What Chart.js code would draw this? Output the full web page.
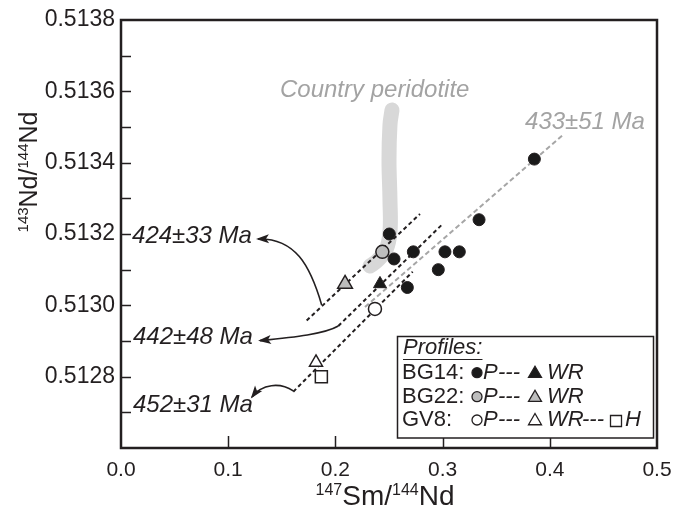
<!DOCTYPE html>
<html><head><meta charset="utf-8">
<script src="https://cdn.jsdelivr.net/npm/chart.js@4"></script>
<style>html,body{margin:0;padding:0;background:#fff}</style>
</head><body>
<canvas id="c" width="673" height="510"></canvas>
<script>
// ---------- data ----------
const xAxisTicks = [0, 0.1, 0.2, 0.3, 0.4, 0.5];
const yAxisLabelTicks = [0.5128, 0.5130, 0.5132, 0.5134, 0.5136, 0.5138];

const bg14P_x = [0.2503, 0.2547, 0.2727, 0.3022, 0.3156, 0.2960, 0.2671, 0.3340, 0.3856];
const bg14P_y = [0.51320, 0.51313, 0.51315, 0.51315, 0.51315, 0.51310, 0.51305, 0.51324, 0.51341];
const bg14WR_x = [0.2416];  const bg14WR_y = [0.51306];
const bg22P_x  = [0.2438];  const bg22P_y  = [0.51315];
const bg22WR_x = [0.2090];  const bg22WR_y = [0.51306];
const gv8P_x   = [0.2369];  const gv8P_y   = [0.51299];
const gv8WR_x  = [0.1819];  const gv8WR_y  = [0.51284];
const gv8H_x   = [0.1869];  const gv8H_y   = [0.51280];

const iso433_x = [0.2276, 0.4123]; const iso433_y = [0.5129953, 0.5134776];
const iso424_x = [0.1732, 0.2789]; const iso424_y = [0.5129575, 0.5132561];
const iso442_x = [0.2027, 0.3007]; const iso442_y = [0.5129420, 0.5132300];
const iso452_x = [0.1607, 0.2721]; const iso452_y = [0.5127579, 0.5130943];

const peridotite_x = [0.2528, 0.2509, 0.2500, 0.2509, 0.2509, 0.2472, 0.2397, 0.2323];
const peridotite_y = [0.5135477, 0.5135056, 0.5134075, 0.5132953, 0.5132056, 0.5131551, 0.5131271, 0.5131103];

const ageLabels  = ['424±33 Ma', '442±48 Ma', '452±31 Ma', '433±51 Ma'];
const ageLabel_x = [0.0103, 0.0112, 0.0112, 0.3769];
const ageLabel_y = [0.513194, 0.512911, 0.512721, 0.513514];
const peridotiteLabel = 'Country peridotite';
const peridotiteLabel_x = 0.1483, peridotiteLabel_y = 0.513604;

// arrow curves (cubic bezier control points, data units)
const arrow1_x = [0.1872, 0.1763, 0.1623, 0.1278]; const arrow1_y = [0.513001, 0.513113, 0.513189, 0.513186];
const arrow2_x = [0.2027, 0.1903, 0.1623, 0.1297]; const arrow2_y = [0.512942, 0.512920, 0.512911, 0.512901];
const arrow3_x = [0.1607, 0.1483, 0.1315, 0.1222]; const arrow3_y = [0.512760, 0.512785, 0.512780, 0.512743];

const legendTitle = 'Profiles:';
const legendRows = ['BG14:', 'BG22:', 'GV8:'];

// ---------- helpers ----------
const pts = (xs, ys) => xs.map((x, i) => ({x, y: ys[i]}));
const INK = '#231f20';
const FONT = "'Liberation Sans', Arial, sans-serif";

function richText(ctx, parts, cx, baseY, big, small, raise) {
  let total = 0;
  parts.forEach(p => { ctx.font = (p[1] ? small : big) + 'px ' + FONT; total += ctx.measureText(p[0]).width; });
  let x = cx - total / 2;
  ctx.textAlign = 'left'; ctx.textBaseline = 'alphabetic';
  parts.forEach(p => {
    ctx.font = (p[1] ? small : big) + 'px ' + FONT;
    ctx.fillText(p[0], x, baseY - (p[1] ? raise : 0));
    x += ctx.measureText(p[0]).width;
  });
}
function marker(ctx, type, x, y, r, fill) {
  ctx.save(); ctx.beginPath();
  if (type === 'circle') ctx.arc(x, y, r, 0, Math.PI * 2);
  else if (type === 'triangle') { ctx.moveTo(x, y - r); ctx.lineTo(x + r * 0.866, y + r * 0.5); ctx.lineTo(x - r * 0.866, y + r * 0.5); ctx.closePath(); }
  else if (type === 'rect') ctx.rect(x - r, y - r, 2 * r, 2 * r);
  ctx.fillStyle = fill; ctx.fill();
  ctx.lineWidth = 1.3; ctx.strokeStyle = INK; ctx.stroke();
  ctx.restore();
}

const deco = {
  id: 'deco',
  afterDatasetsDraw(chart) {
    const {ctx, scales: {x: sx, y: sy}} = chart;
    const X = v => sx.getPixelForValue(v), Y = v => sy.getPixelForValue(v);
    ctx.save();
    // arrows
    [[arrow1_x, arrow1_y], [arrow2_x, arrow2_y], [arrow3_x, arrow3_y]].forEach(([ax, ay]) => {
      const p = ax.map((v, i) => [X(v), Y(ay[i])]);
      ctx.beginPath(); ctx.moveTo(p[0][0], p[0][1]);
      ctx.bezierCurveTo(p[1][0], p[1][1], p[2][0], p[2][1], p[3][0], p[3][1]);
      ctx.strokeStyle = INK; ctx.lineWidth = 1.6; ctx.stroke();
      const ang = Math.atan2(p[3][1] - p[2][1], p[3][0] - p[2][0]);
      const L = 11, W = 4.5;
      ctx.beginPath();
      ctx.moveTo(p[3][0] + Math.cos(ang) * 2, p[3][1] + Math.sin(ang) * 2);
      ctx.lineTo(p[3][0] - Math.cos(ang) * L + Math.sin(ang) * W, p[3][1] - Math.sin(ang) * L - Math.cos(ang) * W);
      ctx.lineTo(p[3][0] - Math.cos(ang) * (L - 3), p[3][1] - Math.sin(ang) * (L - 3));
      ctx.lineTo(p[3][0] - Math.cos(ang) * L - Math.sin(ang) * W, p[3][1] - Math.sin(ang) * L + Math.cos(ang) * W);
      ctx.closePath(); ctx.fillStyle = INK; ctx.fill();
    });
    // labels
    ctx.textAlign = 'left'; ctx.textBaseline = 'middle';
    ageLabels.forEach((t, i) => {
      ctx.font = 'italic 24px ' + FONT;
      ctx.fillStyle = i === 3 ? '#a3a3a3' : INK;
      ctx.fillText(t, X(ageLabel_x[i]), Y(ageLabel_y[i]));
    });
    ctx.fillStyle = '#a3a3a3';
    ctx.fillText(peridotiteLabel, X(peridotiteLabel_x), Y(peridotiteLabel_y));
    ctx.restore();
  },
  afterDraw(chart) {
    const {ctx, chartArea: a, scales: {x: sx, y: sy}} = chart;
    ctx.save();
    // inward ticks
    ctx.strokeStyle = INK; ctx.lineWidth = 1.5;
    sy.ticks.forEach(t => {
      if (t.value <= sy.min + 1e-9 || t.value >= sy.max - 1e-9) return;
      const y = Math.round(sy.getPixelForValue(t.value)) + 0.5;
      ctx.beginPath(); ctx.moveTo(a.left, y); ctx.lineTo(a.left + 10, y); ctx.stroke();
    });
    sx.ticks.forEach(t => {
      if (t.value <= sx.min + 1e-9 || t.value >= sx.max - 1e-9) return;
      const x = Math.round(sx.getPixelForValue(t.value)) + 0.5;
      ctx.beginPath(); ctx.moveTo(x, a.bottom); ctx.lineTo(x, a.bottom - 12); ctx.stroke();
    });
    // legend box
    const lx = 397.5, ly = 336.5, lw = 256, lh = 101.5;
    ctx.fillStyle = '#fff'; ctx.fillRect(lx, ly, lw, lh);
    ctx.lineWidth = 1.5; ctx.strokeStyle = INK; ctx.strokeRect(lx, ly, lw, lh);
    ctx.fillStyle = INK; ctx.textBaseline = 'middle'; ctx.textAlign = 'left';
    ctx.font = 'italic 22px ' + FONT;
    ctx.fillText(legendTitle, 403, 348);
    const tw = ctx.measureText(legendTitle).width;
    ctx.beginPath(); ctx.moveTo(403, 359.5); ctx.lineTo(403 + tw, 359.5); ctx.lineWidth = 1.2; ctx.stroke();
    const rowY = [372.7, 396.7, 420];
    const pFill = ['#1a1a1a', '#bdbdbd', '#ffffff'];
    legendRows.forEach((r, i) => {
      ctx.fillStyle = INK; ctx.font = '22px ' + FONT;
      ctx.fillText(r, 402, rowY[i]);
      marker(ctx, 'circle', 477, rowY[i], 5, pFill[i]);
      ctx.fillStyle = INK; ctx.font = 'italic 22px ' + FONT;
      ctx.fillText('P', 483, rowY[i]);
      ctx.fillText('---', 498, rowY[i]);
      marker(ctx, 'triangle', 535, rowY[i] + 1, 7.5, pFill[i]);
      ctx.fillStyle = INK; ctx.font = 'italic 22px ' + FONT;
      ctx.fillText('WR', 547, rowY[i]);
      if (i === 2) {
        ctx.fillText('---', 582, rowY[i]);
        marker(ctx, 'rect', 616, rowY[i] + 1, 5.5, '#ffffff');
        ctx.fillStyle = INK; ctx.font = 'italic 22px ' + FONT;
        ctx.fillText('H', 625, rowY[i]);
      }
    });
    // frame
    ctx.lineWidth = 2.5; ctx.strokeStyle = INK;
    ctx.strokeRect(a.left, a.top, a.right - a.left, a.bottom - a.top);
    // axis titles
    ctx.fillStyle = INK;
    richText(ctx, [['147', true], ['Sm/', false], ['144', true], ['Nd', false]], 385, 505, 28, 16, 10);
    ctx.translate(37, 172); ctx.rotate(-Math.PI / 2);
    richText(ctx, [['143', true], ['Nd/', false], ['144', true], ['Nd', false]], 0, 0, 25, 15, 9);
    ctx.restore();
  }
};

const markerDs = (xs, ys, style, r, fill, lw) => ({
  data: pts(xs, ys), pointStyle: style, pointRadius: r, pointBackgroundColor: fill,
  pointBorderColor: INK, pointBorderWidth: lw, showLine: false, order: 1
});
const lineDs = (xs, ys, color, dash) => ({
  data: pts(xs, ys), showLine: true, borderColor: color, borderWidth: 2, borderDash: dash,
  pointRadius: 0, order: 2
});

new Chart(document.getElementById('c'), {
  type: 'scatter',
  data: {
    datasets: [
      markerDs(bg14P_x, bg14P_y, 'circle', 6, '#1a1a1a', 1),
      markerDs(bg14WR_x, bg14WR_y, 'triangle', 7.5, '#1a1a1a', 1),
      markerDs(bg22P_x, bg22P_y, 'circle', 6.5, '#bdbdbd', 1.5),
      markerDs(bg22WR_x, bg22WR_y, 'triangle', 8.5, '#bdbdbd', 1.5),
      markerDs(gv8P_x, gv8P_y, 'circle', 6.5, '#ffffff', 1.5),
      markerDs(gv8WR_x, gv8WR_y, 'triangle', 7.5, '#ffffff', 1.5),
      markerDs(gv8H_x, gv8H_y, 'rect', 8.5, '#ffffff', 1.5),
      lineDs(iso424_x, iso424_y, INK, [4, 3]),
      lineDs(iso442_x, iso442_y, INK, [4, 3]),
      lineDs(iso452_x, iso452_y, INK, [4, 3]),
      lineDs(iso433_x, iso433_y, '#a6a6a6', [5, 3]),
      { data: pts(peridotite_x, peridotite_y), showLine: true, borderColor: '#d8d8d8', borderWidth: 15,
        borderCapStyle: 'round', borderJoinStyle: 'round', tension: 0.4, pointRadius: 0, order: 3 }
    ]
  },
  options: {
    responsive: false, animation: false, devicePixelRatio: 1,
    layout: {padding: {top: 20, right: 16, left: 0, bottom: 0}},
    plugins: {legend: {display: false}, tooltip: {enabled: false}},
    scales: {
      x: {
        type: 'linear', min: 0, max: 0.5,
        afterBuildTicks: s => { s.ticks = xAxisTicks.map(v => ({value: v})); },
        ticks: {callback: v => v.toFixed(1), font: {family: FONT, size: 21}, color: INK, padding: 0, maxRotation: 0},
        grid: {display: false, drawTicks: true, tickLength: 10}, border: {display: false},
        afterFit: s => { s.height = 62; }
      },
      y: {
        type: 'linear', min: 0.5126, max: 0.5138,
        ticks: {
          stepSize: 0.0001, autoSkip: false,
          callback: v => { const k = Math.round(v * 1e4); return yAxisLabelTicks.some(t => Math.round(t * 1e4) === k) ? v.toFixed(4) : ''; },
          font: {family: FONT, size: 23}, color: INK, padding: 0
        },
        grid: {display: false, drawTicks: true, tickLength: 6}, border: {display: false},
        afterFit: s => { s.width = 121; }
      }
    }
  },
  plugins: [deco]
});
</script>
</body></html>
